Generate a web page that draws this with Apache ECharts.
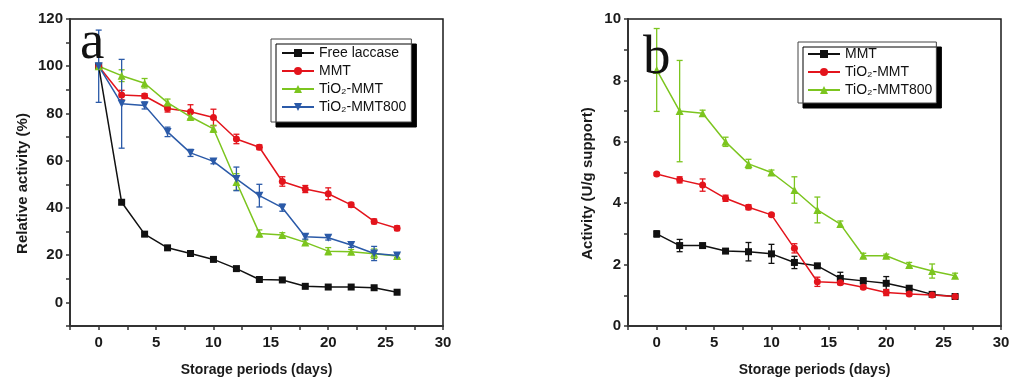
<!DOCTYPE html>
<html>
<head>
<meta charset="utf-8">
<script src="https://cdn.jsdelivr.net/npm/echarts@6/dist/echarts.min.js"></script>
<style>
html,body{margin:0;padding:0;background:#fff;}
#chart{width:1024px;height:391px;}
</style>
</head>
<body>
<div id="chart"></div>
<script>
// ---- data ----
const days = [0, 2, 4, 6, 8, 10, 12, 14, 16, 18, 20, 22, 24, 26];

// Panel a: relative activity (%)
const freeLaccase   = [100, 42.4, 28.9, 23.1, 20.7, 18.2, 14.3, 9.7, 9.5, 6.8, 6.5, 6.5, 6.2, 4.3];
const freeLaccaseErr= [0, 0.8, 0.8, 0.8, 0.5, 0.5, 0.5, 0.5, 0.3, 0.3, 0.3, 0.3, 0.3, 0.3];
const mmtA          = [100, 87.8, 87.4, 82.1, 80.7, 78.3, 69.2, 65.7, 51.2, 48.0, 46.0, 41.3, 34.3, 31.4];
const mmtAErr       = [1, 2, 1, 1.5, 3, 3.5, 2, 1, 2, 1.5, 2.5, 1, 1, 1];
const tio2MmtA      = [100, 96.0, 92.8, 84.6, 78.6, 73.5, 51.0, 29.2, 28.5, 25.4, 21.7, 21.4, 20.6, 19.6];
const tio2MmtAErr   = [1, 2.5, 2, 1.5, 1.5, 1.5, 3.5, 1.5, 1, 1, 1.5, 1, 2, 1];
const tio2Mmt800A   = [100, 84.1, 83.4, 72.2, 63.3, 59.7, 52.3, 45.2, 40.1, 27.8, 27.4, 24.3, 20.7, 19.9];
const tio2Mmt800AErr= [15.3, 18.8, 1.5, 2, 1.5, 1, 5, 4.8, 1.5, 1, 1, 1, 3, 1];

// Panel b: activity (U/g support)
const mmtB          = [3.0, 2.62, 2.62, 2.44, 2.42, 2.35, 2.07, 1.96, 1.55, 1.47, 1.39, 1.23, 1.03, 0.96];
const mmtBErr       = [0.1, 0.2, 0.05, 0.05, 0.3, 0.31, 0.2, 0.05, 0.2, 0.1, 0.22, 0.08, 0.05, 0.05];
const tio2MmtB      = [4.95, 4.76, 4.59, 4.16, 3.87, 3.62, 2.53, 1.44, 1.41, 1.26, 1.09, 1.04, 1.01, 0.96];
const tio2MmtBErr   = [0.05, 0.1, 0.2, 0.1, 0.08, 0.05, 0.15, 0.15, 0.05, 0.05, 0.1, 0.05, 0.03, 0.05];
const tio2Mmt800B   = [8.34, 7.0, 6.93, 6.0, 5.28, 5.0, 4.43, 3.78, 3.32, 2.29, 2.29, 1.99, 1.79, 1.64];
const tio2Mmt800BErr= [1.35, 1.65, 0.1, 0.15, 0.15, 0.08, 0.43, 0.42, 0.1, 0.08, 0.05, 0.08, 0.23, 0.08];

const legendA = ['Free laccase', 'MMT', 'TiO\u2082-MMT', 'TiO\u2082-MMT800'];
// zero-width space keeps panel b series distinct from panel a series with the same label
const legendB = ['MMT\u200b', 'TiO\u2082-MMT\u200b', 'TiO\u2082-MMT800\u200b'];
const xTitle = 'Storage periods (days)';
const yTitleA = 'Relative activity (%)';
const yTitleB = 'Activity (U/g support)';

// ---- styling ----
const BLACK = '#111111', RED = '#e3141c', GREEN = '#7cc51f', BLUE = '#2b5aa8';
const FONT = 'Liberation Sans';

function pts(vals) { return days.map((d, i) => [d, vals[i]]); }
function errs(vals, e) { return days.map((d, i) => [d, vals[i] - e[i], vals[i] + e[i]]); }

function errRender(color) {
  return function (params, api) {
    const x = api.value(0), lo = api.value(1), hi = api.value(2);
    const p1 = api.coord([x, lo]), p2 = api.coord([x, hi]);
    const w = 3;
    const st = { stroke: color, lineWidth: 1.3 };
    return { type: 'group', children: [
      { type: 'line', shape: { x1: p1[0], y1: p1[1], x2: p2[0], y2: p2[1] }, style: st },
      { type: 'line', shape: { x1: p1[0] - w, y1: p1[1], x2: p1[0] + w, y2: p1[1] }, style: st },
      { type: 'line', shape: { x1: p2[0] - w, y1: p2[1], x2: p2[0] + w, y2: p2[1] }, style: st }
    ]};
  };
}

function lineSeries(name, vals, color, symbol, rot, gi, size) {
  return {
    type: 'line', name: name, data: pts(vals), xAxisIndex: gi, yAxisIndex: gi,
    symbol: symbol, symbolRotate: rot || 0, symbolSize: size || 7,
    lineStyle: { color: color, width: 1.5 }, itemStyle: { color: color },
    z: 3, animation: false
  };
}
function errSeries(vals, e, color, gi) {
  return {
    type: 'custom', name: 'err', data: errs(vals, e), xAxisIndex: gi, yAxisIndex: gi,
    renderItem: errRender(color), encode: { x: 0, y: [1, 2] }, z: 2, animation: false, silent: true
  };
}

const axisLineStyle = { color: '#333', width: 2 };
const tickStyle = { color: '#333', width: 1.5 };
const labelStyle = { fontFamily: FONT, fontSize: 15, fontWeight: 'bold', color: '#1a1a1a' };

function xAxis(gi) {
  return {
    type: 'value', gridIndex: gi, min: -2.5, max: 30, interval: 2.5,
    name: xTitle, nameLocation: 'middle', nameGap: 37,
    nameTextStyle: { fontFamily: FONT, fontSize: 14, fontWeight: 'bold', color: '#1a1a1a' },
    axisLine: { onZero: false, lineStyle: axisLineStyle },
    axisTick: { inside: false, length: 4, lineStyle: tickStyle },
    axisLabel: Object.assign({ margin: 9, formatter: v => (Math.abs(v % 5) < 1e-9 ? String(v) : '') }, labelStyle),
    splitLine: { show: false }
  };
}

const legendText = { fontFamily: FONT, fontSize: 14, color: '#111', lineHeight: 16 };
function legendFmt(n) { return n.replace('\u200b', ''); }

const option = {
  backgroundColor: '#ffffff',
  animation: false,
  grid: [
    { left: 70, top: 19, width: 373, height: 307, show: true, borderColor: '#1a1a1a', borderWidth: 1.5, backgroundColor: 'transparent' },
    { left: 628, top: 19, width: 373, height: 307, show: true, borderColor: '#1a1a1a', borderWidth: 1.5, backgroundColor: 'transparent' }
  ],
  xAxis: [xAxis(0), xAxis(1)],
  yAxis: [
    {
      type: 'value', gridIndex: 0, min: -10, max: 120, interval: 10,
      name: yTitleA, nameLocation: 'middle', nameGap: 40,
      nameTextStyle: { fontFamily: FONT, fontSize: 15, fontWeight: 'bold', color: '#1a1a1a', padding: [0, 22, 0, 0] },
      axisLine: { onZero: false, lineStyle: axisLineStyle },
      axisTick: { inside: false, length: 4, lineStyle: tickStyle },
      axisLabel: Object.assign({ margin: 7, formatter: v => (v >= 0 && v % 20 === 0 ? String(v) : '') }, labelStyle),
      splitLine: { show: false }
    },
    {
      type: 'value', gridIndex: 1, min: 0, max: 10, interval: 1,
      name: yTitleB, nameLocation: 'middle', nameGap: 33,
      nameTextStyle: { fontFamily: FONT, fontSize: 15, fontWeight: 'bold', color: '#1a1a1a', padding: [0, 22, 0, 0] },
      axisLine: { onZero: false, lineStyle: axisLineStyle },
      axisTick: { inside: false, length: 4, lineStyle: tickStyle },
      axisLabel: Object.assign({ margin: 7, formatter: v => (v % 2 === 0 ? String(v) : '') }, labelStyle),
      splitLine: { show: false }
    }
  ],
  legend: [
    {
      data: legendA, orient: 'vertical', left: 271, top: 39,
      padding: [6, 5, 7, 10], itemGap: 2, itemWidth: 32, itemHeight: 10,
      backgroundColor: '#fff', borderColor: '#444', borderWidth: 1,
      shadowColor: '#000', shadowBlur: 0, shadowOffsetX: 5, shadowOffsetY: 5,
      textStyle: legendText, formatter: legendFmt, selectedMode: false
    },
    {
      data: legendB, orient: 'vertical', left: 798, top: 42,
      padding: [4, 4, 5, 9], itemGap: 2, itemWidth: 32, itemHeight: 10,
      backgroundColor: '#fff', borderColor: '#444', borderWidth: 1,
      shadowColor: '#000', shadowBlur: 0, shadowOffsetX: 5, shadowOffsetY: 5,
      textStyle: legendText, formatter: legendFmt, selectedMode: false
    }
  ],
  graphic: [
    { type: 'text', left: 80, top: 16, style: { text: 'a', font: '55px "Liberation Serif"', fill: '#111' }, z: 10 },
    { type: 'text', left: 643, top: 31, style: { text: 'b', font: '55px "Liberation Serif"', fill: '#111' }, z: 10 }
  ],
  series: [
    errSeries(freeLaccase, freeLaccaseErr, BLACK, 0),
    errSeries(mmtA, mmtAErr, RED, 0),
    errSeries(tio2MmtA, tio2MmtAErr, GREEN, 0),
    errSeries(tio2Mmt800A, tio2Mmt800AErr, BLUE, 0),
    lineSeries(legendA[0], freeLaccase, BLACK, 'rect', 0, 0, 7),
    lineSeries(legendA[1], mmtA, RED, 'circle', 0, 0, 7),
    lineSeries(legendA[2], tio2MmtA, GREEN, 'triangle', 0, 0, 8),
    lineSeries(legendA[3], tio2Mmt800A, BLUE, 'triangle', 180, 0, 8),
    errSeries(mmtB, mmtBErr, BLACK, 1),
    errSeries(tio2MmtB, tio2MmtBErr, RED, 1),
    errSeries(tio2Mmt800B, tio2Mmt800BErr, GREEN, 1),
    lineSeries(legendB[0], mmtB, BLACK, 'rect', 0, 1, 7),
    lineSeries(legendB[1], tio2MmtB, RED, 'circle', 0, 1, 7),
    lineSeries(legendB[2], tio2Mmt800B, GREEN, 'triangle', 0, 1, 8)
  ]
};

const chart = echarts.init(document.getElementById('chart'), null, { renderer: 'canvas' });
chart.setOption(option);
</script>
</body>
</html>
